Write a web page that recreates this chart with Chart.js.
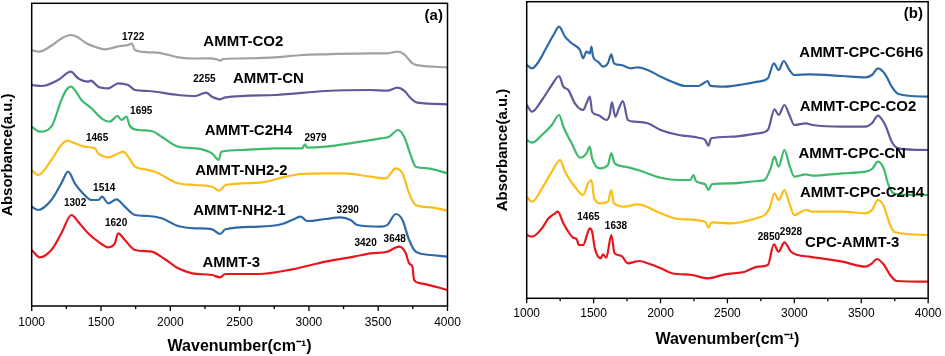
<!DOCTYPE html>
<html><head><meta charset="utf-8">
<script src="https://cdn.jsdelivr.net/npm/chart.js@4"></script>
<style>
html,body{margin:0;padding:0;background:#fff;}
#wrap{position:relative;width:945px;height:356px;overflow:hidden;}
#ca{position:absolute;left:0;top:0;width:472px;height:356px;}
#cb{position:absolute;left:472px;top:0;width:473px;height:356px;}
</style></head><body>
<div id="wrap"><canvas id="ca" width="472" height="356"></canvas><canvas id="cb" width="473" height="356"></canvas></div>
<script>
// ---------- Panel (a) data: wavenumber (cm-1) / absorbance (a.u., offset stacked) ----------
const wnA_CO2  = [1000,1050,1150,1220,1282,1330,1394,1455,1528,1580,1636,1696,1722,1745,1841,1937,2057,2200,2277,2340,2359,2380,2500,2759,2952,3120,3446,3566,3639,3687,3747,3807,4000];
const absA_CO2 = [256,254.3,261,268,271,269,262.7,259.3,256.7,258,260,261,262.5,256,253.7,252.7,248.7,247.5,247.7,246.5,245.3,247,247.5,248.7,251,251.7,252.7,252.7,254.3,251.7,242.7,240.3,238.7];

const wnA_CN  = [1000,1070,1190,1282,1335,1407,1426,1480,1552,1624,1696,1745,1841,2057,2181,2258,2301,2359,2398,2759,3120,3446,3566,3639,3687,3735,3783,4000];
const absA_CN = [221,220,226,234.3,227.7,224.3,225.3,219.3,217.7,222.7,221,216,215,211,210,213.3,209.3,206.7,208.7,211,215,216,215.3,218.3,215.3,207.7,203.3,201.7];

const wnA_C2H4  = [1000,1058,1142,1214,1250,1282,1311,1359,1431,1504,1564,1619,1648,1684,1708,1769,1865,1937,2057,2181,2301,2349,2368,2518,2759,2952,2971,2988,3120,3325,3518,3579,3643,3687,3730,3771,3855,4000];
const absA_C2H4 = [179.3,174.3,179.3,206,216,219.3,216,206,197.7,187.7,184.3,190,186,189.3,180,176,175,169.3,159.3,157.7,152.7,146,154.3,156,157.7,157.7,161.7,158.3,159.3,163.3,167.7,169.3,176,169.3,152.7,139.3,137.7,132.7];

const wnA_NH22  = [1000,1046,1142,1214,1258,1311,1383,1455,1480,1552,1600,1660,1696,1745,1817,1889,2057,2181,2301,2354,2398,2639,2831,2940,3120,3253,3446,3554,3627,3675,3723,3771,3880,4000];
const absA_NH22 = [136,131,146,161,165.3,162.7,159.3,157.7,152.7,148.7,151,154.3,149.3,139.3,136.7,134.3,122.7,121,119.3,115.3,121,123.3,129.3,132,132.7,132.7,129.3,127.7,137.7,132.7,112.7,101,98.7,95.3];

const wnA_NH21  = [1000,1046,1142,1214,1263,1311,1359,1431,1480,1508,1552,1612,1672,1745,1841,1937,2057,2181,2301,2359,2398,2639,2807,2879,2940,2988,3120,3229,3301,3349,3518,3566,3627,3675,3723,3771,3880,4000];
const absA_NH21 = [99.3,96,106,122.7,134.3,122.7,114.3,106,106,109.3,102.7,106.7,99.3,91,90,87.7,80,77.7,76.7,72,76.7,79.3,82,86,89.3,85,87,88.7,86,81,79.3,81,92,86,66,54.3,51,49.3];

const wnA_3  = [1000,1058,1142,1214,1287,1335,1407,1480,1552,1600,1624,1672,1745,1865,1961,2057,2157,2301,2359,2398,2639,2879,3120,3325,3446,3566,3651,3699,3723,3747,3759,3807,4000];
const absA_3 = [56,48.7,56,72.7,91,84.3,72.7,64.3,58.7,62.7,72.7,66,56,54.3,46.7,37.7,32.7,31,28.7,32,32,36.7,44.3,49.3,52.7,54.3,59.3,52.7,42.7,39.3,26,22.7,16];

// ---------- Panel (b) data ----------
const wnB_C6H6  = [1000,1040,1089,1151,1200,1242,1286,1336,1398,1422,1447,1472,1484,1496,1533,1570,1607,1632,1652,1706,1780,1830,1904,2002,2086,2185,2284,2321,2353,2370,2481,2630,2728,2802,2847,2882,2921,2963,3000,3111,3358,3531,3580,3625,3679,3728,3778,4000];
const absB_C6H6 = [233.3,230,236.6,251.6,263.3,271.6,261.6,255,248.3,240,246.6,245,251.6,241.6,236.6,231.6,235,244,235,233.3,230,231,228.3,221.6,216.6,212.3,212.3,215,217.3,212.6,211.6,214.3,216.6,220,235,228.3,237.3,228.3,223.3,224,222.3,221,223.3,230,224,211.6,204.3,201.6];

const wnB_CO2  = [1000,1040,1114,1188,1242,1274,1311,1360,1422,1447,1472,1489,1533,1595,1620,1637,1662,1690,1719,1756,1805,1904,2002,2136,2284,2333,2358,2378,2531,2728,2802,2852,2882,2926,2963,3000,3086,3136,3358,3531,3580,3625,3679,3728,3778,4000];
const absB_CO2 = [193.3,186.6,198.3,213.3,222.3,211.6,208.3,195,188.3,195,201.6,186.6,183.3,178.3,183.3,196,181.6,190.3,197.3,178.3,176.6,175,168.3,163.3,160.6,158.3,152.6,160,161.6,165,168.3,189,183.3,193.3,183.3,173.3,175,173.3,171.6,171.6,175,182.6,173.3,156.6,150,148.3];

const wnB_CN  = [1000,1040,1114,1188,1242,1274,1336,1398,1447,1472,1489,1546,1607,1632,1657,1731,1830,2002,2136,2222,2247,2264,2333,2358,2383,2531,2728,2778,2823,2852,2882,2926,2963,3000,3086,3136,3358,3531,3580,3625,3667,3704,3741,3778,4000];
const absB_CN = [158.3,155.6,163.3,173.3,183.3,171.6,155,140.6,145,151.6,140,130,133.3,145,135,131.6,128.3,120.6,118.3,118.3,123.3,117.3,114,108.3,114,115,117.3,118.3,130,141.6,131.6,148.3,133.3,121.6,124,122.6,125,126.6,129.3,136.6,130,113.3,105,104,103.3];

const wnB_C2H4  = [1000,1040,1114,1188,1249,1286,1360,1422,1459,1484,1504,1558,1607,1632,1652,1731,1830,2002,2136,2333,2358,2383,2531,2728,2778,2815,2852,2882,2926,2963,3000,3086,3136,3358,3531,3580,3625,3667,3716,3753,4000];
const absB_C2H4 = [101.6,96.6,110,126.6,138.3,126.6,111.6,103.3,115,118.3,100,95,96.6,108.3,95,91.6,94,85,79.3,76.6,71,76,75,80.6,83.3,90,105,98.3,108.3,95,83.3,88.3,86.6,86.6,85,88.3,98.3,92.6,73.3,66,63.3];

const wnB_3  = [1000,1040,1114,1163,1212,1232,1274,1311,1348,1373,1390,1422,1454,1472,1489,1509,1553,1570,1595,1632,1657,1706,1756,1842,1904,2002,2086,2235,2353,2481,2630,2728,2802,2847,2882,2926,2975,3025,3111,3358,3531,3580,3617,3667,3716,3765,4000];
const absB_3 = [63.3,61.6,70,80,85,86.6,75,66.6,60.6,59.3,53.3,53.3,65,70,66.6,50,40,44,40.6,63.3,45,42.6,35,37.3,35,30,25,23.3,20,24,26.6,31.6,33.3,54,46.6,56,46.6,43.3,41.6,36.6,31.6,35,39.3,34,23.3,17.3,16.6];

// x-axis ticks
const xMin = 1000, xMax = 4000, xMajor = 500, xMinor = 250;

const F = '"Liberation Sans", Arial, sans-serif';
const COL = { gray:'#a2a2a2', purple:'#5f5a9a', green:'#3dba6b', yellow:'#fdbd18', blue:'#2f6aa6', red:'#e8161c' };

function pts(xs, ys){ return xs.map((x,i)=>({x:x, y:ys[i]})); }
function ds(label, xs, ys, color){
  return { label, data: pts(xs, ys), borderColor: color, backgroundColor: color, borderWidth: 2.2,
           pointRadius: 0, cubicInterpolationMode: 'monotone', fill: false };
}

const datasetsA = [
  ds('AMMT-CO2', wnA_CO2, absA_CO2, COL.gray),
  ds('AMMT-CN', wnA_CN, absA_CN, COL.purple),
  ds('AMMT-C2H4', wnA_C2H4, absA_C2H4, COL.green),
  ds('AMMT-NH2-2', wnA_NH22, absA_NH22, COL.yellow),
  ds('AMMT-NH2-1', wnA_NH21, absA_NH21, COL.blue),
  ds('AMMT-3', wnA_3, absA_3, COL.red)
];
const datasetsB = [
  ds('AMMT-CPC-C6H6', wnB_C6H6, absB_C6H6, COL.blue),
  ds('AMMT-CPC-CO2', wnB_CO2, absB_CO2, COL.purple),
  ds('AMMT-CPC-CN', wnB_CN, absB_CN, COL.green),
  ds('AMMT-CPC-C2H4', wnB_C2H4, absB_C2H4, COL.yellow),
  ds('CPC-AMMT-3', wnB_3, absB_3, COL.red)
];

// annotations (text placed in data coordinates)
const notesA = [
  {t:'(a)', x:3901, y:290, s:15},
  {t:'AMMT-CO2', x:2527, y:264, s:15},
  {t:'1722', x:1732, y:268.3, s:10},
  {t:'2255', x:2246, y:227, s:10},
  {t:'AMMT-CN', x:2708, y:227, s:15},
  {t:'1695', x:1790, y:195, s:10},
  {t:'AMMT-C2H4', x:2564, y:175, s:15},
  {t:'2979', x:3048, y:168, s:10},
  {t:'1465', x:1472, y:168, s:10},
  {t:'AMMT-NH2-2', x:2513, y:135, s:15},
  {t:'1514', x:1523, y:118, s:10},
  {t:'1302', x:1313, y:103, s:10},
  {t:'AMMT-NH2-1', x:2499, y:95, s:15},
  {t:'3290', x:3280, y:96, s:10},
  {t:'1620', x:1609, y:83, s:10},
  {t:'3420', x:3409, y:63, s:10},
  {t:'3648', x:3619, y:67, s:10},
  {t:'AMMT-3', x:2440, y:43, s:15}
];
const notesB = [
  {t:'(b)', x:3889, y:284.3, s:15},
  {t:'AMMT-CPC-C6H6', x:3501, y:245.6, s:15},
  {t:'AMMT-CPC-CO2', x:3476, y:191.6, s:15},
  {t:'AMMT-CPC-CN', x:3432, y:144.3, s:15},
  {t:'AMMT-CPC-C2H4', x:3506, y:105, s:15},
  {t:'CPC-AMMT-3', x:3432, y:55, s:15},
  {t:'1465', x:1461, y:81, s:10},
  {t:'1638', x:1667, y:71.6, s:10},
  {t:'2850', x:2810, y:60.6, s:10},
  {t:'2928', x:2975, y:65.6, s:10}
];

function framePlugin(notes){
  return {
    id: 'frame',
    afterDraw(chart){
      const {ctx, chartArea:a, scales:{x, y}} = chart;
      ctx.save();
      ctx.strokeStyle = '#000';
      ctx.lineWidth = 1.5;
      ctx.strokeRect(a.left, a.top, a.right - a.left, a.bottom - a.top);
      ctx.lineWidth = 1.3;
      for (let v = xMin; v <= xMax; v += xMinor) {
        const px = x.getPixelForValue(v);
        const len = (v % xMajor === 0) ? 5 : 3;
        ctx.beginPath(); ctx.moveTo(px, a.bottom); ctx.lineTo(px, a.bottom + len); ctx.stroke();
      }
      ctx.fillStyle = '#000';
      ctx.textAlign = 'center';
      ctx.textBaseline = 'middle';
      notes.forEach(n => {
        ctx.font = 'bold ' + n.s + 'px ' + F;
        ctx.fillText(n.t, x.getPixelForValue(n.x), y.getPixelForValue(n.y));
      });
      ctx.restore();
    }
  };
}

function panel(id, datasets, notes, L){
  return new Chart(document.getElementById(id), {
    type: 'line',
    data: { datasets },
    options: {
      responsive: false, animation: false, devicePixelRatio: 1,
      layout: { padding: { top: L.top, right: L.right, left: 0, bottom: 0 } },
      plugins: { legend: { display: false }, tooltip: { enabled: false } },
      scales: {
        x: {
          type: 'linear', min: xMin, max: xMax,
          ticks: { stepSize: xMinor, autoSkip: false, maxRotation: 0, padding: L.tickPad, color: '#000',
                   font: { family: F, size: 12 }, callback: v => (v % xMajor === 0 ? String(v) : '') },
          grid: { display: true, drawOnChartArea: false, drawTicks: true, tickLength: 5, tickColor: 'rgba(0,0,0,0)' },
          border: { display: false },
          title: { display: true, text: 'Wavenumber(cm⁻¹)', color: '#000',
                   font: { family: F, size: 16, weight: 'bold' }, padding: { top: 0, bottom: L.titlePad } },
          afterFit: s => { s.height = L.xh; }
        },
        y: {
          type: 'linear', min: 0, max: L.ymax,
          ticks: { display: false }, grid: { display: false }, border: { display: false },
          title: { display: true, text: 'Absorbance(a.u.)', color: '#000',
                   font: { family: F, size: 15, weight: 'bold' }, padding: { top: L.ytPad, bottom: 0 } },
          afterFit: s => { s.width = L.yw; }
        }
      }
    },
    plugins: [framePlugin(notes)]
  });
}

panel('ca', datasetsA, notesA, { top: 3.3, right: 24.5, xh: 50, yw: 31.7, ymax: 302.7, tickPad: 4.5, titlePad: 0, ytPad: -1.5 });
panel('cb', datasetsB, notesB, { top: 1.7, right: 13.3, xh: 57.7, yw: 54.7, ymax: 296.6, tickPad: 3.5, titlePad: 6.4, ytPad: 22.3 });
</script>
</body></html>
